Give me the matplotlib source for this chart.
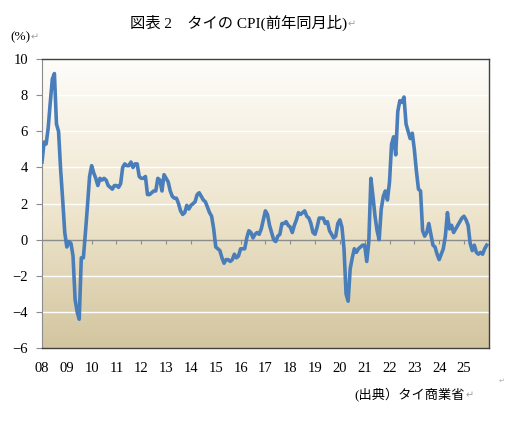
import numpy as np
import matplotlib.pyplot as plt
from matplotlib.colors import LinearSegmentedColormap

# Thailand headline CPI, % y/y, monthly Jan 2008 - Dec 2025
cpi_2008 = [4.3, 5.4, 5.3, 6.2, 7.6, 8.9, 9.2, 6.4, 6.0, 3.9, 2.2, 0.4]
cpi_2009 = [-0.4, -0.1, -0.2, -0.9, -3.3, -4.0, -4.4, -1.0, -1.0, 0.4, 1.9, 3.5]
cpi_2010 = [4.1, 3.7, 3.4, 3.0, 3.4, 3.3, 3.4, 3.3, 3.0, 2.9, 2.8, 3.0]
cpi_2011 = [3.0, 2.9, 3.1, 4.0, 4.2, 4.1, 4.1, 4.3, 4.0, 4.2, 4.2, 3.5]
cpi_2012 = [3.4, 3.4, 3.5, 2.5, 2.5, 2.6, 2.7, 2.7, 3.4, 3.3, 2.7, 3.6]
cpi_2013 = [3.4, 3.2, 2.7, 2.4, 2.3, 2.3, 2.0, 1.6, 1.4, 1.5, 1.9, 1.7]
cpi_2014 = [1.9, 2.0, 2.1, 2.5, 2.6, 2.4, 2.2, 2.1, 1.8, 1.5, 1.3, 0.6]
cpi_2015 = [-0.4, -0.5, -0.6, -1.0, -1.3, -1.1, -1.1, -1.2, -1.1, -0.8, -1.0, -0.9]
cpi_2016 = [-0.5, -0.5, -0.5, 0.1, 0.5, 0.4, 0.1, 0.3, 0.4, 0.3, 0.6, 1.1]
cpi_2017 = [1.6, 1.4, 0.8, 0.4, 0.0, -0.1, 0.2, 0.3, 0.9, 0.9, 1.0, 0.8]
cpi_2018 = [0.7, 0.4, 0.8, 1.1, 1.5, 1.4, 1.5, 1.6, 1.3, 1.2, 0.9, 0.4]
cpi_2019 = [0.3, 0.7, 1.2, 1.2, 1.2, 0.9, 1.0, 0.5, 0.3, 0.1, 0.2, 0.9]
cpi_2020 = [1.1, 0.7, -0.5, -3.0, -3.4, -1.6, -1.0, -0.5, -0.7, -0.5, -0.4, -0.3]
cpi_2021 = [-0.3, -1.2, -0.1, 3.4, 2.4, 1.3, 0.5, 0.0, 1.7, 2.4, 2.7, 2.2]
cpi_2022 = [3.2, 5.3, 5.7, 4.7, 7.1, 7.7, 7.6, 7.9, 6.4, 6.0, 5.6, 5.9]
cpi_2023 = [5.0, 3.8, 2.8, 2.7, 0.5, 0.2, 0.4, 0.9, 0.3, -0.3, -0.4, -0.8]
cpi_2024 = [-1.1, -0.8, -0.5, 0.2, 1.5, 0.6, 0.8, 0.4, 0.6, 0.8, 1.0, 1.2]
cpi_2025 = [1.3, 1.1, 0.8, -0.2, -0.6, -0.3, -0.7, -0.8, -0.7, -0.8, -0.5, -0.3]

cpi = (cpi_2008 + cpi_2009 + cpi_2010 + cpi_2011 + cpi_2012 + cpi_2013
       + cpi_2014 + cpi_2015 + cpi_2016 + cpi_2017 + cpi_2018 + cpi_2019
       + cpi_2020 + cpi_2021 + cpi_2022 + cpi_2023 + cpi_2024 + cpi_2025)
year_labels = ['08', '09', '10', '11', '12', '13', '14', '15', '16',
               '17', '18', '19', '20', '21', '22', '23', '24', '25']

serif_jp = ['Liberation Serif', 'Noto Sans CJK JP', 'DejaVu Sans']

fig = plt.figure(figsize=(5.06, 4.22), dpi=100)
ax = fig.add_axes([0.083, 0.175, 0.883, 0.685])

# gradient background
cmap = LinearSegmentedColormap.from_list(
    'bg', [(0.0, '#d3c59f'), (0.45, '#ede4cb'), (1.0, '#fefdfb')])
ax.imshow(np.linspace(0, 1, 256).reshape(-1, 1), cmap=cmap, aspect='auto',
          extent=(0, 1, 0, 1), transform=ax.transAxes, origin='lower', zorder=0)

months = np.arange(len(cpi))
ax.set_xlim(0, 216)
ax.set_ylim(-6, 10)

for y in range(-4, 10, 2):
    if y != 0:
        ax.axhline(y, color='white', lw=1.0, zorder=1)
ax.axhline(0, color='#8c8c8c', lw=1.0, zorder=2)

ax.plot(months, cpi, color='#4a7ebb', lw=2.6, solid_joinstyle='round', zorder=3)

# year ticks on the zero line
zero_ax = ax.secondary_xaxis(6 / 16)
zero_ax.set_xticks(np.arange(12, 216, 12))
zero_ax.tick_params(direction='out', length=3, color='#8c8c8c', labelbottom=False)
zero_ax.spines['bottom'].set_visible(False)

ax.set_xticks(np.arange(0, 216, 12))
ax.set_xticklabels(year_labels)
ax.tick_params(axis='x', length=0, pad=10)
ax.set_yticks(range(-6, 11, 2))
ax.tick_params(axis='y', length=4, color='#8c8c8c', pad=6)
for lab in ax.get_xticklabels() + ax.get_yticklabels():
    lab.set_family(serif_jp)
    lab.set_fontsize(10.5)

for side in ['top', 'right', 'bottom']:
    ax.spines[side].set_color('#404040')
    ax.spines[side].set_linewidth(1.0)
ax.spines['left'].set_color('#8c8c8c')


def return_mark(txt, size=7):
    # gray paragraph mark right after a text, as in the source document
    fig.add_artist(plt.Annotation('↵', xy=(1, 0.45), xycoords=txt,
                                  xytext=(0.5, 0), textcoords='offset points',
                                  ha='left', va='center', fontsize=size,
                                  family=['DejaVu Sans'], color='#a0a0a0',
                                  annotation_clip=False))


title = fig.text(0.257, 0.945, '図表 2　タイの CPI(前年同月比)', family=serif_jp,
                 fontsize=11, ha='left', va='center')
return_mark(title)
pct = fig.text(0.02, 0.912, '(%)', family=serif_jp, fontsize=9.5,
               ha='left', va='center')
return_mark(pct)
src = fig.text(0.70, 0.064, '(出典）タイ商業省', family=serif_jp, fontsize=9.5,
               ha='left', va='center')
return_mark(src)
fig.text(0.985, 0.098, '↵', family=['DejaVu Sans'], fontsize=5,
         color='#b0b0b0', ha='left', va='center')

fig.savefig('out.png', dpi=100)
